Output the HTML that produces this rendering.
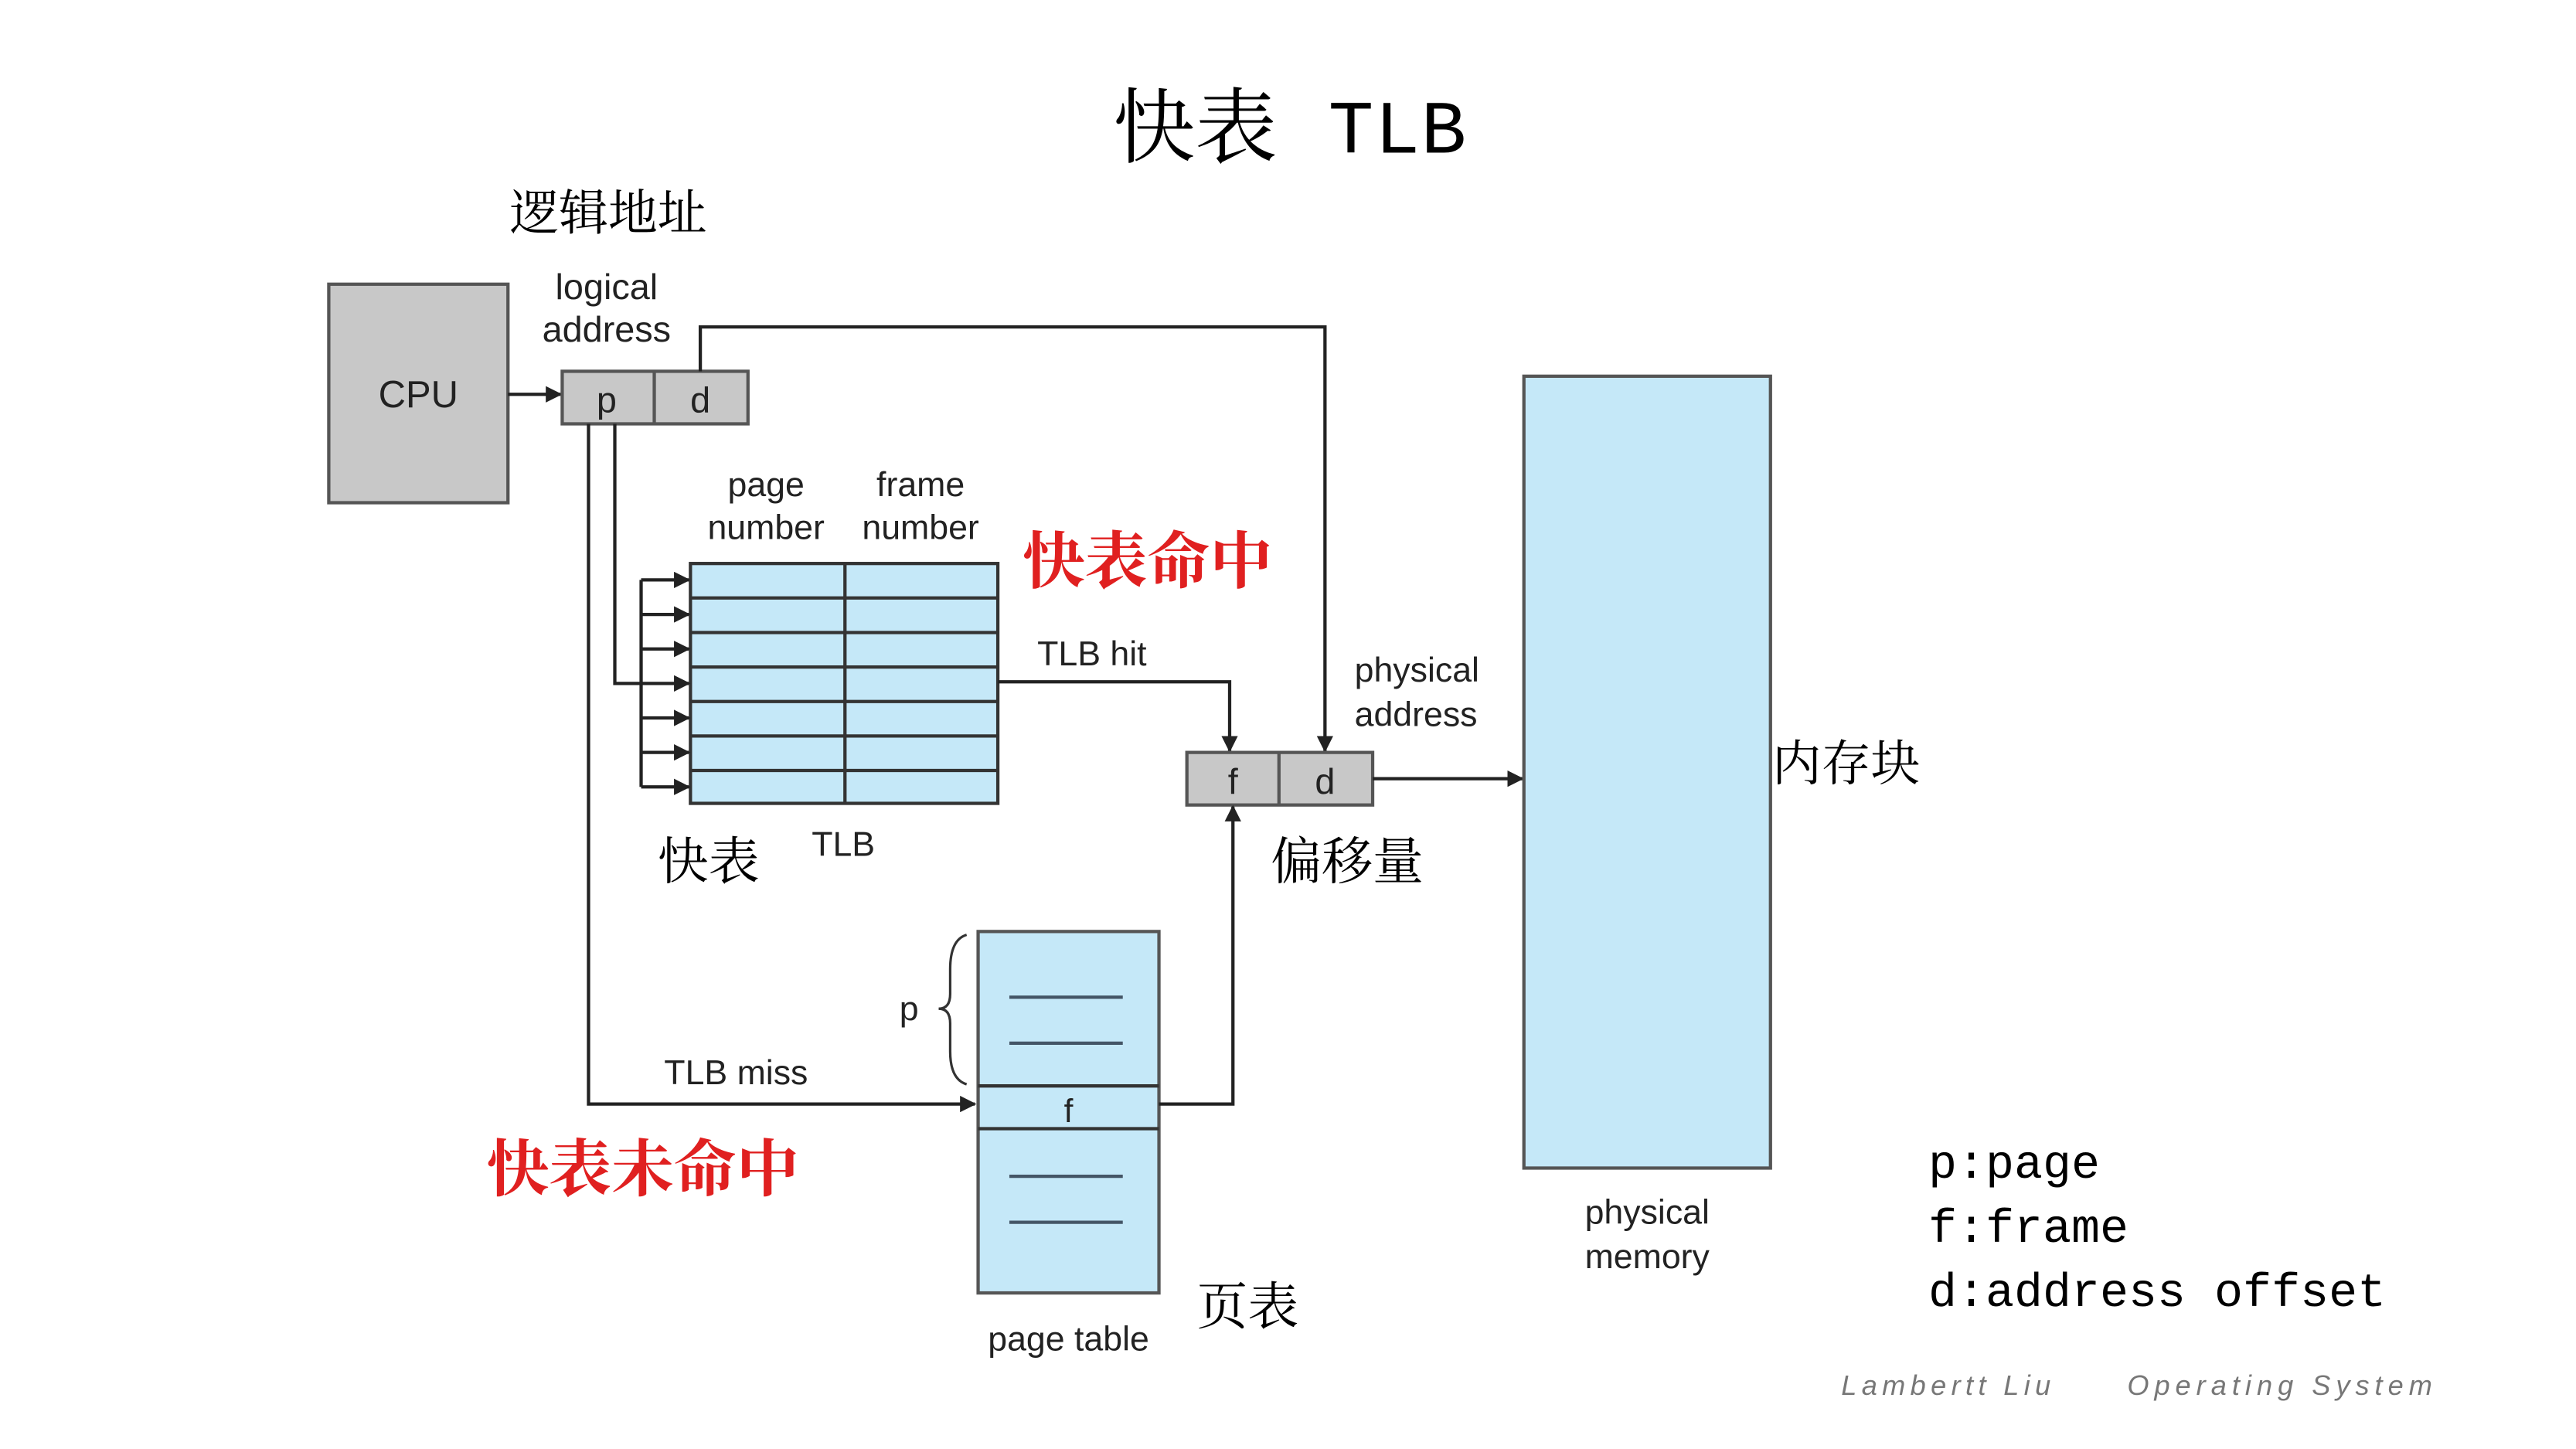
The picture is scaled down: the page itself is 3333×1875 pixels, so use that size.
<!DOCTYPE html>
<html><head><meta charset="utf-8"><style>
html,body{margin:0;padding:0;background:#fff;}
svg{display:block;}
.s{font-family:"Liberation Sans","Noto Sans CJK SC",sans-serif;fill:#222;}
.c{font-family:"Liberation Serif","Noto Serif CJK SC",serif;fill:#000;}
.m{font-family:"Liberation Mono","DejaVu Sans Mono",monospace;fill:#000;}
</style></head><body>
<svg width="3333" height="1875" viewBox="0 0 1567 882" preserveAspectRatio="none" xmlns="http://www.w3.org/2000/svg">
<defs><marker id="a" markerWidth="10" markerHeight="10" refX="9" refY="5" orient="auto" markerUnits="userSpaceOnUse"><path d="M0,0 L10,5 L0,10 Z" fill="#222"/></marker></defs>
<rect width="1567" height="882" fill="#fff"/>
<text x="677" y="95" class="c" font-size="50">快表</text>
<text x="808" y="93" class="m" font-size="46" textLength="84">TLB</text>
<text x="310" y="140" class="c" font-size="30">逻辑地址</text>
<!-- CPU -->
<rect x="200" y="173" width="109" height="133" fill="#c8c8c8" stroke="#555" stroke-width="2"/>
<text x="254.5" y="248" class="s" font-size="23" text-anchor="middle">CPU</text>
<line x1="309" y1="240" x2="341" y2="240" stroke="#222" stroke-width="2" marker-end="url(#a)"/>
<text x="369" y="182" class="s" font-size="22" text-anchor="middle">logical</text>
<text x="369" y="208" class="s" font-size="22" text-anchor="middle">address</text>
<rect x="342" y="226" width="113" height="32" fill="#c8c8c8" stroke="#555" stroke-width="2"/>
<line x1="398" y1="226" x2="398" y2="258" stroke="#555" stroke-width="2"/>
<text x="369" y="251" class="s" font-size="22" text-anchor="middle">p</text>
<text x="426" y="251" class="s" font-size="22" text-anchor="middle">d</text>
<polyline points="426,226 426,199 806,199 806,457" fill="none" stroke="#222" stroke-width="2" marker-end="url(#a)"/>
<!-- TLB -->
<text x="466" y="302" class="s" font-size="21" text-anchor="middle">page</text>
<text x="466" y="328" class="s" font-size="21" text-anchor="middle">number</text>
<text x="560" y="302" class="s" font-size="21" text-anchor="middle">frame</text>
<text x="560" y="328" class="s" font-size="21" text-anchor="middle">number</text>
<rect x="420" y="343" width="187" height="146" fill="#c5e8f8" stroke="#333" stroke-width="2"/>
<g stroke="#333" stroke-width="2">
<line x1="514" y1="343" x2="514" y2="489"/>
<line x1="420" y1="364" x2="607" y2="364"/><line x1="420" y1="385" x2="607" y2="385"/>
<line x1="420" y1="406" x2="607" y2="406"/><line x1="420" y1="427" x2="607" y2="427"/>
<line x1="420" y1="448" x2="607" y2="448"/><line x1="420" y1="469" x2="607" y2="469"/>
</g>
<g stroke="#222" stroke-width="2" marker-end="url(#a)">
<line x1="390" y1="353" x2="419" y2="353"/><line x1="390" y1="374" x2="419" y2="374"/>
<line x1="390" y1="395" x2="419" y2="395"/><line x1="390" y1="416" x2="419" y2="416"/>
<line x1="390" y1="437" x2="419" y2="437"/><line x1="390" y1="458" x2="419" y2="458"/>
<line x1="390" y1="479" x2="419" y2="479"/>
</g>
<line x1="390" y1="353" x2="390" y2="479" stroke="#222" stroke-width="2"/>
<polyline points="374,258 374,416 390,416" fill="none" stroke="#222" stroke-width="2"/>
<polyline points="358,258 358,672 593,672" fill="none" stroke="#222" stroke-width="2" marker-end="url(#a)"/>
<text x="622" y="355" class="c" font-size="38" style="fill:#e02020;font-weight:bold">快表命中</text>
<text x="631" y="405" class="s" font-size="21">TLB hit</text>
<polyline points="607,415 748,415 748,457" fill="none" stroke="#222" stroke-width="2" marker-end="url(#a)"/>
<!-- fd -->
<rect x="722" y="458" width="113" height="32" fill="#c8c8c8" stroke="#555" stroke-width="2"/>
<line x1="778" y1="458" x2="778" y2="490" stroke="#555" stroke-width="2"/>
<text x="750" y="483" class="s" font-size="22" text-anchor="middle">f</text>
<text x="806" y="483" class="s" font-size="22" text-anchor="middle">d</text>
<line x1="835" y1="474" x2="926" y2="474" stroke="#222" stroke-width="2" marker-end="url(#a)"/>
<text x="824" y="415" class="s" font-size="21">physical</text>
<text x="824" y="442" class="s" font-size="21">address</text>
<!-- memory -->
<rect x="927" y="229" width="150" height="482" fill="#c5e8f8" stroke="#555" stroke-width="2"/>
<text x="1078" y="475" class="c" font-size="30">内存块</text>
<text x="1002" y="745" class="s" font-size="21" text-anchor="middle">physical</text>
<text x="1002" y="772" class="s" font-size="21" text-anchor="middle">memory</text>
<text x="400" y="535" class="c" font-size="31">快表</text>
<text x="513" y="521" class="s" font-size="21" text-anchor="middle">TLB</text>
<text x="773" y="535" class="c" font-size="31">偏移量</text>
<!-- page table -->
<rect x="595" y="567" width="110" height="220" fill="#c5e8f8" stroke="#555" stroke-width="2"/>
<line x1="595" y1="661" x2="705" y2="661" stroke="#333" stroke-width="2"/>
<line x1="595" y1="687" x2="705" y2="687" stroke="#333" stroke-width="2"/>
<text x="650" y="683" class="s" font-size="20" text-anchor="middle">f</text>
<g stroke="#456" stroke-width="2">
<line x1="614" y1="607" x2="683" y2="607"/><line x1="614" y1="635" x2="683" y2="635"/>
<line x1="614" y1="716" x2="683" y2="716"/><line x1="614" y1="744" x2="683" y2="744"/>
</g>
<path d="M588,569 Q578,572 578,590 L578,605 Q578,614 571,614 Q578,614 578,623 L578,640 Q578,657 588,660" fill="none" stroke="#333" stroke-width="1.5"/>
<text x="553" y="621" class="s" font-size="21" text-anchor="middle">p</text>
<text x="404" y="660" class="s" font-size="21">TLB miss</text>
<polyline points="705,672 750,672 750,491" fill="none" stroke="#222" stroke-width="2" marker-end="url(#a)"/>
<text x="296" y="725" class="c" font-size="38" style="fill:#e02020;font-weight:bold">快表未命中</text>
<text x="650" y="822" class="s" font-size="21" text-anchor="middle">page table</text>
<text x="728" y="806" class="c" font-size="31">页表</text>
<!-- legend -->
<text x="1173" y="717" class="m" font-size="29">p:page</text>
<text x="1173" y="756" class="m" font-size="29">f:frame</text>
<text x="1173" y="795" class="m" font-size="29">d:address offset</text>
<text x="1120" y="849" class="s" font-size="17" font-style="italic" style="fill:#777" letter-spacing="3">Lambertt Liu</text>
<text x="1294" y="849" class="s" font-size="17" font-style="italic" style="fill:#777" letter-spacing="3.3">Operating System</text>
</svg>
</body></html>
